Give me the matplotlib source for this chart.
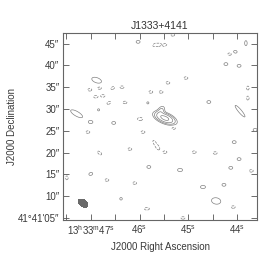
import numpy as np
import matplotlib
matplotlib.use('Agg')
from matplotlib import pyplot as plt

plt.rcParams['font.family'] = ['Liberation Sans', 'DejaVu Sans']
plt.rcParams['mathtext.fontset'] = 'custom'
plt.rcParams['mathtext.rm'] = 'Liberation Sans'
plt.rcParams['contour.negative_linestyle'] = 'dashed'

title = 'J1333+4141'

# RA in seconds of 13h33m, Dec in arcsec above 41d41'00"
ra_ticks = [44.0, 44.5, 45.0, 45.5, 46.0, 46.5, 47.0, 47.5]
ra_labels = ['$44^{\\mathrm{s}}$', '', '$45^{\\mathrm{s}}$', '', '$46^{\\mathrm{s}}$', '',
             '$13^{\\mathrm{h}}33^{\\mathrm{m}}47^{\\mathrm{s}}$', '']
dec_ticks = [5, 10, 15, 20, 25, 30, 35, 40, 45]
dec_labels = ["41\u00b041'05\u2033", '10\u2033', '15\u2033', '20\u2033', '25\u2033',
              '30\u2033', '35\u2033', '40\u2033', '45\u2033']

# clean components: ra (s), dec ("), peak (sigma units), sigma major/minor ("), angle (deg, display)
blob_ra = [45.48, 45.56, 46.03, 45.69, 45.60, 46.88, 47.02, 46.82, 46.90, 46.75,
           46.55, 46.36, 46.63, 46.30, 46.84, 47.29, 47.00, 46.53, 45.99, 45.77,
           45.83, 45.48, 45.32, 43.82, 44.04, 44.15, 44.23, 43.96, 45.05, 45.42,
           45.56, 44.58, 43.94, 43.78, 43.78, 47.06, 46.82, 46.20, 45.93, 45.69,
           45.62, 45.81, 47.00, 46.67, 46.10, 47.49, 46.38, 45.85, 45.30, 45.48,
           44.88, 44.45, 44.06, 43.96, 44.13, 43.71, 45.17, 44.70, 44.27, 44.43,
           44.08, 45.11, 43.63]
blob_dec = [27.9, 29.6, 45.4, 44.7, 44.7, 36.6, 34.4, 34.8, 32.8, 33.0,
            34.8, 35.0, 31.4, 31.5, 29.8, 28.9, 27.0, 26.8, 27.7, 33.9,
            31.4, 44.7, 47.0, 45.1, 43.1, 42.6, 40.3, 39.9, 37.1, 36.0,
            33.9, 31.6, 29.5, 34.8, 32.5, 24.7, 19.9, 20.8, 24.7, 22.2,
            21.1, 16.7, 15.1, 13.7, 13.0, 14.2, 9.4, 7.1, 25.6, 20.1,
            20.1, 19.9, 22.4, 18.5, 16.5, 15.8, 16.0, 12.1, 12.6, 8.9,
            7.5, 5.0, 25.2]
blob_amp = [10, 2.5, 1.4, -1.4, -1.4, 1.6, -1.4, -1.4, -1.4, -1.4,
            -1.4, -1.4, -1.4, -1.4, 1.2, 1.6, 1.4, 1.4, -1.4, -1.4,
            1.2, -1.4, -1.4, 1.4, 1.4, -1.4, 1.4, 1.4, -1.4, -1.4,
            -1.4, 1.4, 1.5, -1.4, -1.4, -1.4, -1.4, -1.4, -1.4, -1.4,
            -1.4, 1.4, 1.4, -1.4, -1.4, -1.4, 1.3, -1.4, -1.4, -1.4,
            -1.4, -1.4, 1.4, 1.4, 1.4, -1.4, 1.4, 1.4, 1.4, 1.6,
            -1.4, -1.4, 1.4]
blob_smaj = [1.4, 0.8, 0.55, 0.55, 0.55, 1.2, 0.55, 0.55, 0.55, 0.55,
             0.55, 0.55, 0.55, 0.55, 0.4, 1.6, 0.55, 0.55, 0.7, 0.55,
             0.4, 0.55, 0.55, 0.7, 0.55, 0.55, 0.55, 0.55, 0.55, 0.55,
             0.55, 0.55, 1.9, 0.55, 0.55, 0.55, 0.7, 0.55, 0.55, 0.8,
             0.55, 0.55, 0.55, 0.55, 0.55, 0.55, 0.4, 0.7, 0.55, 0.55,
             0.55, 0.55, 0.55, 0.55, 0.55, 0.55, 0.7, 0.7, 0.55, 1.1,
             0.55, 0.55, 0.55]
blob_smin = [0.62, 0.5, 0.4, 0.35, 0.35, 0.6, 0.35, 0.35, 0.35, 0.35,
             0.35, 0.35, 0.35, 0.35, 0.4, 0.55, 0.4, 0.4, 0.45, 0.35,
             0.4, 0.35, 0.35, 0.35, 0.4, 0.35, 0.4, 0.4, 0.35, 0.35,
             0.35, 0.4, 0.4, 0.35, 0.35, 0.35, 0.35, 0.35, 0.35, 0.35,
             0.35, 0.4, 0.4, 0.35, 0.35, 0.35, 0.4, 0.35, 0.35, 0.35,
             0.35, 0.35, 0.4, 0.4, 0.4, 0.35, 0.45, 0.45, 0.4, 0.75,
             0.35, 0.35, 0.4]
blob_ang = [-22, 60, 0, 30, 30, -20, 0, 0, 0, 0,
            30, 0, 30, 0, 0, -30, 0, 0, 0, 0,
            0, 30, 0, 90, 0, 0, 0, 0, 0, 0,
            0, 0, -50, 90, 90, 0, -40, 0, 0, -60,
            -60, 0, 20, 0, 0, 90, 0, 0, 0, 0,
            0, 0, 0, 0, 0, 0, 0, 0, 0, -10,
            0, 0, 0]

# synthesized beam
beam_ra, beam_dec = 47.16, 8.4
beam_maj, beam_min, beam_ang = 2.5, 1.5, -35

levels = [-1, 1, 2, 4, 8]
RA_SCALE = 15 * np.cos(np.radians(41.69))  # arcsec per second of RA


def gauss(ra, dec, r0, d0, amp, smaj, smin, ang):
    u = -(ra - r0) * RA_SCALE
    v = dec - d0
    t = np.radians(ang)
    a = u * np.cos(t) + v * np.sin(t)
    b = -u * np.sin(t) + v * np.cos(t)
    return amp * np.exp(-0.5 * ((a / smaj) ** 2 + (b / smin) ** 2))


def main():
    ra = np.linspace(43.3, 47.9, 520)
    dec = np.linspace(3.5, 48.5, 520)
    RA, DEC = np.meshgrid(ra, dec)

    field = np.zeros_like(RA)
    for i in range(len(blob_ra)):
        field += gauss(RA, DEC, blob_ra[i], blob_dec[i], blob_amp[i],
                       blob_smaj[i], blob_smin[i], blob_ang[i])

    fwhm = 2 * np.sqrt(2 * np.log(2))
    beam = gauss(RA, DEC, beam_ra, beam_dec, 1.0,
                 beam_maj / fwhm, beam_min / fwhm, beam_ang)

    fig = plt.figure(figsize=(2.75, 2.63), dpi=100)
    ax = fig.add_axes([0.229, 0.163, 0.706, 0.711])

    ax.contour(RA, DEC, field, levels=levels, colors='#808080', linewidths=0.5)
    ax.contourf(RA, DEC, beam, levels=[0.5, 2], colors='#6a6a6a')

    ax.set_xlim(47.57, 43.59)
    ax.set_ylim(4.5, 47.4)

    ax.set_xticks(ra_ticks, labels=ra_labels)
    ax.set_yticks(dec_ticks, labels=dec_labels)
    ax.tick_params(direction='in', length=4, width=0.6, colors='#555555',
                   labelcolor='#3a3a3a', labelsize=7, top=True, right=True, pad=2.5)
    for s in ax.spines.values():
        s.set_color('#666666')
        s.set_linewidth(0.8)

    ax.set_title(title, fontsize=7.5, color='#333333', pad=3)
    ax.set_xlabel('J2000 Right Ascension', fontsize=7, color='#3a3a3a', labelpad=3)
    ax.set_ylabel('J2000 Declination', fontsize=7, color='#3a3a3a')
    ax.yaxis.set_label_coords(-0.237, 0.5)

    fig.savefig('out.png', dpi=100)


if __name__ == '__main__':
    main()
